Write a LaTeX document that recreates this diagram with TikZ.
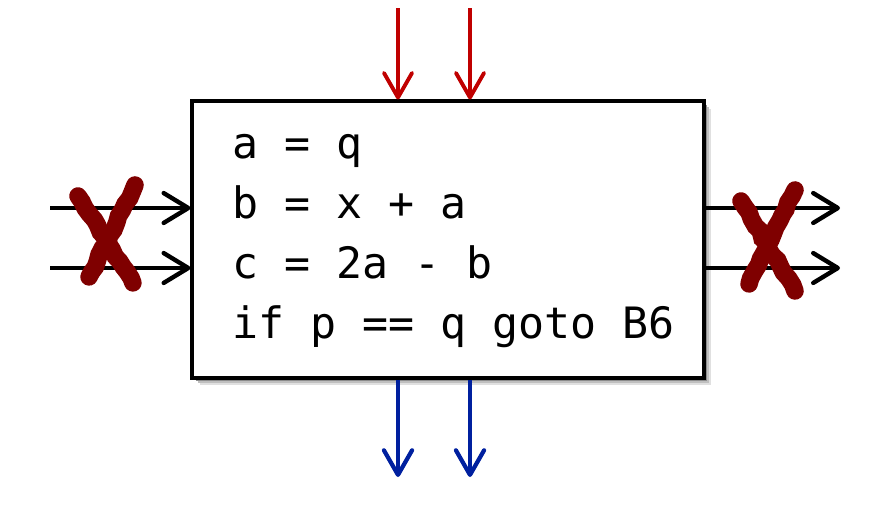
\documentclass[tikz,border=0pt]{standalone}
\usepackage{fontspec}
\usepackage{tikz}
\usetikzlibrary{arrows.meta,shadows,decorations.pathmorphing}
\newfontfamily\codefont{DejaVu Sans Mono}
\definecolor{dark_red}{HTML}{7F0000}
\definecolor{arrow_red}{HTML}{C00000}
\definecolor{arrow_blue}{HTML}{00209F}

\begin{document}
\begin{tikzpicture}[x=0.02cm,y=0.02cm,
    block/.style={draw,line width=1.8pt,fill=white,minimum width=10.24cm,minimum height=5.54cm,
      drop shadow={shadow xshift=0.15cm,shadow yshift=-0.15cm,fill=black!12,opacity=1},
      drop shadow={shadow xshift=0.11cm,shadow yshift=-0.11cm,fill=black!25,opacity=1},
      drop shadow={shadow xshift=0.07cm,shadow yshift=-0.07cm,fill=black!45,opacity=1}},
    code/.style={anchor=base west,inner sep=0,font=\codefont\fontsize{24.6}{30}\selectfont},
    inflow/.style={-{Straight Barb[length=14pt,width=16pt,round]},line width=2.2pt,arrow_red},
    outflow/.style={-{Straight Barb[length=14pt,width=16pt,round]},line width=2.4pt,arrow_blue},
    side/.style={-{Straight Barb[length=14pt,width=17pt,round]},line width=2.5pt,black},
    cross/.style={dark_red,line width=10pt,line cap=round,decorate,
      decoration={random steps,segment length=4pt,amplitude=0.7pt}}]
    \useasboundingbox (0,0) rectangle (892,512);
    \pgfmathsetseed{7}
    \node[block] (blk) at (448,272.5) {};
    \node[code] (l1) at (232,354) {a = q};
    \node[code] (l2) at (232,294) {b = x + a};
    \node[code] (l3) at (232,234) {c = 2a - b};
    \node[code] (l4) at (232,174) {if p == q goto B6};
    % free ends
    \coordinate (in1) at (398,504);
    \coordinate (in2) at (470,504);
    \coordinate (out1) at (398,35);
    \coordinate (out2) at (470,35);
    \coordinate (lft1) at (50,304);
    \coordinate (lft2) at (50,244);
    \coordinate (rgt1) at (840,304);
    \coordinate (rgt2) at (840,244);
    \draw[inflow] (in1) -- (in1 |- blk.north);
    \draw[inflow] (in2) -- (in2 |- blk.north);
    \draw[outflow] (out1 |- blk.south) -- (out1);
    \draw[outflow] (out2 |- blk.south) -- (out2);
    \draw[side] (lft1) -- (lft1 -| blk.west);
    \draw[side] (lft2) -- (lft2 -| blk.west);
    \draw[side] (rgt1 -| blk.east) -- (rgt1);
    \draw[side] (rgt2 -| blk.east) -- (rgt2);
    % crossed out edges
    \draw[cross] (78,316) -- (133,229);
    \draw[cross] (135,327) -- (89,235);
    \draw[cross] (741,311) -- (795,221);
    \draw[cross] (795,322) -- (749,228);
\end{tikzpicture}
\end{document}
